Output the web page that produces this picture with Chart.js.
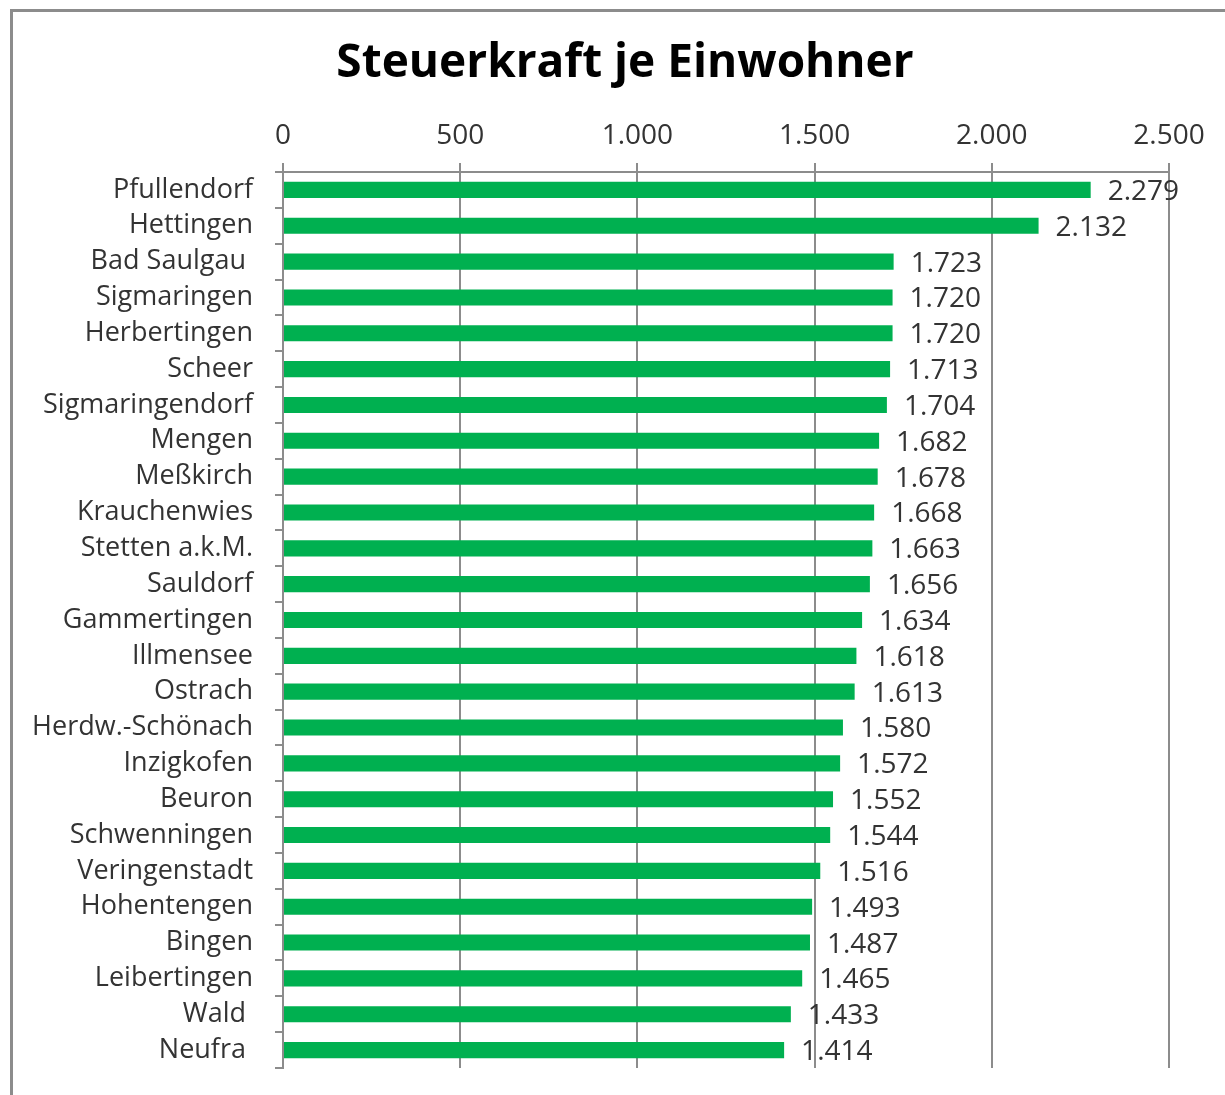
<!DOCTYPE html>
<html>
<head>
<meta charset="utf-8">
<script src="https://cdn.jsdelivr.net/npm/chart.js@4"></script>
<style>
  html, body { margin: 0; background: #fff; overflow: hidden; }
  #frame { position: absolute; left: 10px; top: 9px; width: 1212px; height: 1083px;
           border-left: 3px solid #8c8c8c; border-top: 3px solid #8c8c8c; }
  #wrap { position: absolute; left: 0; top: 0; width: 1225px; height: 1095px; }
</style>
</head>
<body>
<div id="frame"></div>
<div id="wrap"><canvas id="taxChart"></canvas></div>
<script>
const municipalities = ['Pfullendorf', 'Hettingen', 'Bad Saulgau ', 'Sigmaringen', 'Herbertingen', 'Scheer',
    'Sigmaringendorf', 'Mengen', 'Meßkirch', 'Krauchenwies', 'Stetten a.k.M.', 'Sauldorf', 'Gammertingen',
    'Illmensee', 'Ostrach', 'Herdw.-Schönach', 'Inzigkofen', 'Beuron', 'Schwenningen', 'Veringenstadt',
    'Hohentengen', 'Bingen', 'Leibertingen', 'Wald ', 'Neufra '];
const taxPerResident = [2279, 2132, 1723, 1720, 1720, 1713, 1704, 1682, 1678, 1668, 1663, 1656, 1634,
    1618, 1613, 1580, 1572, 1552, 1544, 1516, 1493, 1487, 1465, 1433, 1414];
const axisMin = 0;
const axisMax = 2500;
const axisStep = 500;

const FONT = '"Open Sans", sans-serif';
const gridGrey = '#8c8c8c';

function germanNumber(v) {
    return String(v).replace(/\B(?=(\d{3})+(?!\d))/g, '.');
}

// title drawn at the spot the original has it
const titlePlugin = {
    id: 'titleText',
    afterDraw(chart) {
        const ctx = chart.ctx;
        ctx.save();
        ctx.font = 'bold 46px ' + FONT;
        ctx.fillStyle = '#000';
        ctx.textAlign = 'center';
        ctx.textBaseline = 'middle';
        ctx.fillText('Steuerkraft je Einwohner', 625, 64);
        ctx.restore();
    }
};

// value labels right of each bar
const valueLabels = {
    id: 'valueLabels',
    afterDatasetsDraw(chart) {
        const ctx = chart.ctx;
        const meta = chart.getDatasetMeta(0);
        ctx.save();
        ctx.font = '28px ' + FONT;
        ctx.fillStyle = '#333';
        ctx.textAlign = 'left';
        ctx.textBaseline = 'middle';
        meta.data.forEach((bar, i) => {
            ctx.fillText(germanNumber(chart.data.datasets[0].data[i]), bar.x + 17, bar.y + 2);
        });
        ctx.restore();
    }
};

const taxCtx = document.getElementById('taxChart').getContext('2d');
const taxChart = new Chart(taxCtx, {
    type: 'bar',
    data: {
        labels: municipalities,
        datasets: [{
            data: taxPerResident,
            backgroundColor: '#00b050',
            borderWidth: 0,
            barPercentage: 0.45,
            categoryPercentage: 1
        }]
    },
    options: {
        indexAxis: 'y',
        responsive: true,
        maintainAspectRatio: false,
        animation: false,
        layout: { padding: { top: 100, left: 10, right: 56, bottom: 27 } },
        plugins: {
            legend: { display: false },
            title: { display: false },
            tooltip: { enabled: false }
        },
        scales: {
            x: {
                position: 'top',
                min: axisMin,
                max: axisMax,
                afterFit(scale) { scale.height = 72; },
                ticks: {
                    stepSize: axisStep,
                    padding: 10,
                    color: '#333',
                    font: { family: FONT, size: 28 },
                    callback: v => germanNumber(v)
                },
                grid: { color: gridGrey, lineWidth: 2, tickLength: 9, tickColor: gridGrey },
                border: { color: gridGrey, width: 2 }
            },
            y: {
                afterFit(scale) {
                    scale.width = 273;
                    scale.paddingTop = 0;
                    scale.paddingBottom = 0;
                },
                ticks: {
                    padding: 22,
                    color: '#333',
                    font: { family: FONT, size: 27 },
                    autoSkip: false
                },
                grid: { drawOnChartArea: false, offset: true, color: gridGrey, lineWidth: 2, tickLength: 8 },
                border: { color: gridGrey, width: 2 }
            }
        }
    },
    plugins: [titlePlugin, valueLabels]
});
</script>
</body>
</html>
